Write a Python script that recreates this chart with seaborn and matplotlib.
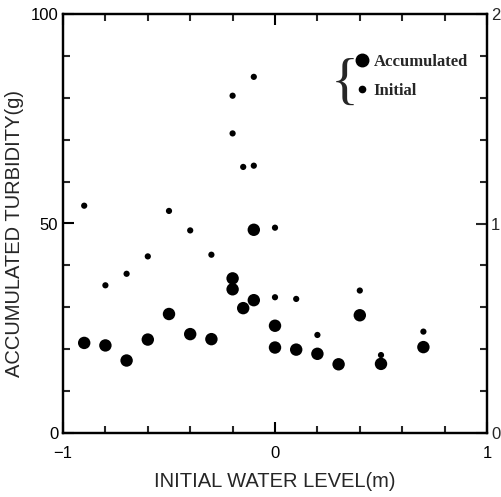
import matplotlib
matplotlib.use("Agg")
import matplotlib.pyplot as plt
from matplotlib.lines import Line2D
from matplotlib.ticker import MultipleLocator, FixedLocator
import seaborn as sns
import pandas as pd

# ---- data ----
acc_x = [-0.9, -0.8, -0.7, -0.6, -0.5, -0.4, -0.3, -0.2, -0.2, -0.15,
         -0.1, -0.1, 0.0, 0.0, 0.1, 0.2, 0.3, 0.4, 0.5, 0.7]
acc_y = [21.5, 20.9, 17.3, 22.3, 28.4, 23.6, 22.4, 36.9, 34.3, 29.8,
         31.7, 48.5, 25.6, 20.4, 19.9, 18.9, 16.4, 28.1, 16.5, 20.5]

init_x = [-0.9, -0.8, -0.7, -0.6, -0.5, -0.4, -0.3, -0.2, -0.2, -0.15,
          -0.1, -0.1, 0.0, 0.0, 0.1, 0.2, 0.4, 0.5, 0.7]
init_y = [1.085, 0.705, 0.76, 0.843, 1.06, 0.967, 0.851, 1.61, 1.43, 1.27,
          1.70, 1.276, 0.98, 0.648, 0.64, 0.468, 0.68, 0.372, 0.484]

x_ticklabels = ["\u22121", "0", "1"]
left_ticklabels = ["0", "50", "100"]
right_ticklabels = ["0", "1", "2"]
x_label = "INITIAL WATER LEVEL(m)"
y_label = "ACCUMULATED TURBIDITY(g)"
legend_labels = ["Accumulated", "Initial"]

sns.set_style("ticks")
plt.rcParams["font.family"] = ["Liberation Sans", "DejaVu Sans"]

acc_df = pd.DataFrame({"x": acc_x, "y": acc_y})
init_df = pd.DataFrame({"x": init_x, "y": init_y})

fig = plt.figure(figsize=(5.01, 4.97), dpi=100)
ax = fig.add_axes([63 / 501, 64 / 497, 424 / 501, 419 / 497])
ax2 = ax.twinx()

sns.scatterplot(data=acc_df, x="x", y="y", ax=ax, s=80, color="black",
                edgecolor="none", legend=False, zorder=3)
sns.scatterplot(data=init_df, x="x", y="y", ax=ax2, s=20, color="black",
                edgecolor="none", legend=False, zorder=3)

ax.set_xlim(-1, 1)
ax.set_ylim(0, 100)
ax2.set_ylim(0, 2)

ax.xaxis.set_major_locator(FixedLocator([-1, 0, 1]))
ax.set_xticklabels(x_ticklabels)
ax.xaxis.set_minor_locator(MultipleLocator(0.2))
ax.yaxis.set_major_locator(FixedLocator([0, 50, 100]))
ax.set_yticklabels(left_ticklabels)
ax.yaxis.set_minor_locator(MultipleLocator(10))
ax2.yaxis.set_major_locator(FixedLocator([0, 1, 2]))
ax2.set_yticklabels(right_ticklabels)
ax2.yaxis.set_minor_locator(MultipleLocator(0.2))

for a in (ax, ax2):
    for sp in a.spines.values():
        sp.set_linewidth(1.6)
        sp.set_color("black")
        sp.set_visible(True)

ax.tick_params(axis="both", which="major", direction="in", length=8, width=1.5,
               labelsize=12, colors="black", top=True)
ax.tick_params(axis="both", which="minor", direction="in", length=5, width=1.5,
               top=True)
ax.tick_params(axis="y", which="both", right=False)
ax.tick_params(axis="x", which="major", pad=9.5)
ax2.tick_params(axis="y", which="major", direction="in", length=8, width=1.5,
                labelsize=12, pad=3)
ax2.tick_params(axis="y", which="minor", direction="in", length=5, width=1.5)

ax.set_xlabel(x_label, fontsize=14.5, labelpad=8)
ax.set_ylabel(y_label, fontsize=14.5)
ax.yaxis.set_label_coords(-0.092, 0.476)
ax2.set_ylabel("")

handles = [
    Line2D([], [], marker="o", linestyle="none", color="black", markersize=9),
    Line2D([], [], marker="o", linestyle="none", color="black", markersize=4.5),
]
leg = ax.legend(handles, legend_labels, loc="upper right",
                bbox_to_anchor=(0.99, 0.94), frameon=False,
                prop={"family": "Liberation Serif", "weight": "bold", "size": 12},
                handletextpad=0.2, handlelength=1.0, labelspacing=0.75)
ax.text(0.664, 0.832, "{", transform=ax.transAxes, fontsize=42,
        family="Liberation Serif", va="center", ha="center")

fig.savefig("out.png", dpi=100)
